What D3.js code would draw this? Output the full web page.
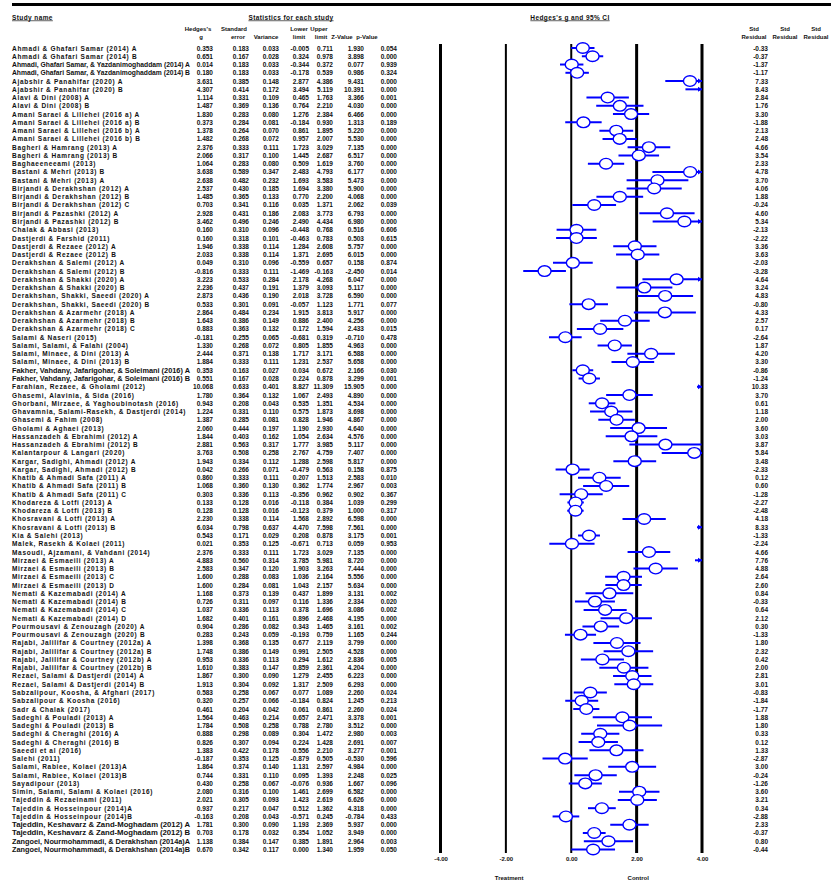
<!DOCTYPE html>
<html>
<head>
<meta charset="utf-8">
<script src="https://cdn.jsdelivr.net/npm/d3@7"></script>
<style>
body { margin: 0; background: #fff; }
svg text { font-family: "Liberation Sans", Arial, sans-serif; font-weight: bold; fill: #111; }
</style>
</head>
<body>
<div id="forest"></div>
<script>
var studies = [
	'Ahmadi & Ghafari Samar (2014) A', 'Ahmadi & Ghafari Samar (2014) B',
	'Ahmadi, Ghafari Samar, & Yazdanimoghaddam (2014) A', 'Ahmadi, Ghafari Samar, & Yazdanimoghaddam (2014) B',
	'Ajabshir & Panahifar (2020) A', 'Ajabshir & Panahifar (2020) B',
	'Alavi & Dini (2008) A', 'Alavi & Dini (2008) B',
	'Amani Saraei & Lillehei (2016 a) A', 'Amani Saraei & Lillehei (2016 a) B',
	'Amani Saraei & Lillehei (2016 b) A', 'Amani Saraei & Lillehei (2016 b) B',
	'Bagheri & Hamrang (2013) A', 'Bagheri & Hamrang (2013) B',
	'Baghaeeneeami (2013)', 'Bastani & Mehri (2013) B', 'Bastani & Mehri (2013) A',
	'Birjandi & Derakhshan (2012) A', 'Birjandi & Derakhshan (2012) B', 'Birjandi & Derakhshan (2012) C',
	'Birjandi & Pazashki (2012) A', 'Birjandi & Pazashki (2012) B',
	'Chalak & Abbasi (2013)', 'Dastjerdi & Farshid (2011)',
	'Dastjerdi & Rezaee (2012) A', 'Dastjerdi & Rezaee (2012) B',
	'Derakhshan & Salemi (2012) A', 'Derakhshan & Salemi (2012) B',
	'Derakhshan & Shakki (2020) A', 'Derakhshan & Shakki (2020) B',
	'Derakhshan, Shakki, Saeedi (2020) A', 'Derakhshan, Shakki, Saeedi (2020) B',
	'Derakhshan & Azarmehr (2018) A', 'Derakhshan & Azarmehr (2018) B', 'Derakhshan & Azarmehr (2018) C',
	'Salami & Naseri (2015)', 'Salami, Salami, & Falahi (2004)',
	'Salami, Minaee, & Dini (2013) A', 'Salami, Minaee, & Dini (2013) B',
	'Fakher, Vahdany, Jafarigohar, & Soleimani (2016) A', 'Fakher, Vahdany, Jafarigohar, & Soleimani (2016) B',
	'Farahian, Rezaee, & Gholami (2012)', 'Ghasemi, Alavinia, & Sida (2016)',
	'Ghorbani, Mirzaee, & Yaghoubinotash (2016)', 'Ghavamnia, Salami-Rasekh, & Dastjerdi (2014)',
	'Ghasemi & Fahim (2008)', 'Gholami & Aghaei (2013)',
	'Hassanzadeh & Ebrahimi (2012) A', 'Hassanzadeh & Ebrahimi (2012) B',
	'Kalantarpour & Langari (2020)', 'Kargar, Sadighi, Ahmadi (2012) A', 'Kargar, Sadighi, Ahmadi (2012) B',
	'Khatib & Ahmadi Safa (2011) A', 'Khatib & Ahmadi Safa (2011) B', 'Khatib & Ahmadi Safa (2011) C',
	'Khodareza & Lotfi (2013) A', 'Khodareza & Lotfi (2013) B',
	'Khosravani & Lotfi (2013) A', 'Khosravani & Lotfi (2013) B',
	'Kia & Salehi (2013)', 'Malek, Rasekh & Kolaei (2011)', 'Masoudi, Ajzamani, & Vahdani (2014)',
	'Mirzaei & Esmaeili (2013) A', 'Mirzaei & Esmaeili (2013) B', 'Mirzaei & Esmaeili (2013) C', 'Mirzaei & Esmaeili (2013) D',
	'Nemati & Kazemabadi (2014) A', 'Nemati & Kazemabadi (2014) B', 'Nemati & Kazemabadi (2014) C', 'Nemati & Kazemabadi (2014) D',
	'Pourmousavi & Zenouzagh (2020) A', 'Pourmousavi & Zenouzagh (2020) B',
	'Rajabi, Jalilifar & Courtney (2012a) A', 'Rajabi, Jalilifar & Courtney (2012a) B',
	'Rajabi, Jalilifar & Courtney (2012b) A', 'Rajabi, Jalilifar & Courtney (2012b) B',
	'Rezaei, Salami & Dastjerdi (2014) A', 'Rezaei, Salami & Dastjerdi (2014) B',
	'Sabzalipour, Koosha, & Afghari (2017)', 'Sabzalipour & Koosha (2016)', 'Sadr & Chalak (2017)',
	'Sadeghi & Pouladi (2013) A', 'Sadeghi & Pouladi (2013) B',
	'Sadeghi & Cheraghi (2016) A', 'Sadeghi & Cheraghi (2016) B',
	'Saeedi et al (2016)', 'Salehi (2011)',
	'Salami, Rabiee, Kolaei (2013)A', 'Salami, Rabiee, Kolaei (2013)B',
	'Sayadipour (2013)', 'Simin, Salami, Salami & Kolaei (2016)', 'Tajeddin & Rezaeinami (2011)',
	'Tajeddin & Hosseinpour (2014)A', 'Tajeddin & Hosseinpour (2014)B',
	'Tajeddin, Keshavarz & Zand-Moghadam (2012) A', 'Tajeddin, Keshavarz & Zand-Moghadam (2012) B',
	'Zangoei, Nourmohammadi, & Derakhshan (2014a)A', 'Zangoei, Nourmohammadi, & Derakhshan (2014a)B'
];

var hedges_g = [0.353,0.651,0.014,0.180,3.631,4.307,1.114,1.487,1.830,0.373,1.378,1.482,2.376,2.066,1.064,3.638,2.638,2.537,1.485,0.703,
	2.928,3.462,0.160,0.160,1.946,2.033,0.049,-0.816,3.223,2.236,2.873,0.533,2.864,1.643,0.883,-0.181,1.330,2.444,1.884,0.353,
	0.551,10.068,1.780,0.943,1.224,1.387,2.060,1.844,2.881,3.763,1.943,0.042,0.860,1.068,0.303,0.133,0.128,2.230,6.034,0.543,
	0.021,2.376,4.883,2.583,1.600,1.600,1.168,0.726,1.037,1.682,0.904,0.283,1.398,1.748,0.953,1.610,1.867,1.913,0.583,0.320,
	0.461,1.564,1.784,0.888,0.826,1.383,-0.187,1.864,0.744,0.430,2.080,2.021,0.937,-0.163,1.781,0.703,1.138,0.670];

var std_err = [0.183,0.167,0.183,0.183,0.385,0.414,0.331,0.369,0.283,0.284,0.264,0.268,0.333,0.317,0.283,0.589,0.482,0.430,0.365,0.341,
	0.431,0.496,0.310,0.318,0.338,0.338,0.310,0.333,0.533,0.437,0.436,0.301,0.484,0.386,0.363,0.255,0.268,0.371,0.333,0.163,
	0.167,0.633,0.364,0.208,0.331,0.285,0.444,0.403,0.563,0.508,0.334,0.266,0.333,0.360,0.336,0.128,0.128,0.338,0.798,0.171,
	0.353,0.333,0.560,0.347,0.288,0.284,0.373,0.311,0.336,0.401,0.286,0.243,0.368,0.386,0.336,0.383,0.300,0.304,0.258,0.257,
	0.204,0.463,0.508,0.298,0.307,0.422,0.353,0.374,0.331,0.258,0.316,0.305,0.217,0.208,0.300,0.178,0.384,0.342];

var variance = [0.033,0.028,0.033,0.033,0.148,0.172,0.109,0.136,0.080,0.081,0.070,0.072,0.111,0.100,0.080,0.347,0.232,0.185,0.133,0.116,
	0.186,0.246,0.096,0.101,0.114,0.114,0.096,0.111,0.284,0.191,0.190,0.091,0.234,0.149,0.132,0.065,0.072,0.138,0.111,0.027,
	0.028,0.401,0.132,0.043,0.110,0.081,0.197,0.162,0.317,0.258,0.112,0.071,0.111,0.130,0.113,0.016,0.016,0.114,0.637,0.029,
	0.125,0.111,0.314,0.120,0.083,0.081,0.139,0.097,0.113,0.161,0.082,0.059,0.135,0.149,0.113,0.147,0.090,0.092,0.067,0.066,
	0.042,0.214,0.258,0.089,0.094,0.178,0.125,0.140,0.110,0.067,0.100,0.093,0.047,0.043,0.090,0.032,0.147,0.117];

var lower_limit = [-0.005,0.324,-0.344,-0.178,2.877,3.494,0.465,0.764,1.276,-0.184,0.861,0.957,1.723,1.445,0.509,2.483,1.693,1.694,0.770,0.035,
	2.083,2.490,-0.448,-0.463,1.284,1.371,-0.559,-1.469,2.178,1.379,2.018,-0.057,1.915,0.886,0.172,-0.681,0.805,1.717,1.231,0.034,
	0.224,8.827,1.067,0.535,0.575,0.828,1.190,1.054,1.777,2.767,1.288,-0.479,0.207,0.362,-0.356,-0.118,-0.123,1.568,4.470,0.208,
	-0.671,1.723,3.785,1.903,1.036,1.043,0.437,0.116,0.378,0.896,0.343,-0.193,0.677,0.991,0.294,0.859,1.279,1.317,0.077,-0.184,
	0.061,0.657,0.788,0.304,0.224,0.556,-0.879,1.131,0.095,-0.076,1.461,1.423,0.512,-0.571,1.193,0.354,0.385,0.000];

var upper_limit = [0.711,0.978,0.372,0.539,4.386,5.119,1.763,2.210,2.384,0.930,1.895,2.007,3.029,2.687,1.619,4.793,3.583,3.380,2.200,1.371,
	3.773,4.434,0.768,0.783,2.608,2.695,0.657,-0.163,4.268,3.093,3.728,1.123,3.813,2.400,1.594,0.319,1.855,3.171,2.537,0.672,
	0.878,11.309,2.493,1.351,1.873,1.946,2.930,2.634,3.985,4.759,2.598,0.563,1.513,1.774,0.962,0.384,0.379,2.892,7.598,0.878,
	0.713,3.029,5.981,3.263,2.164,2.157,1.899,1.336,1.696,2.468,1.465,0.759,2.119,2.505,1.612,2.361,2.455,2.509,1.089,0.824,
	0.861,2.471,2.780,1.472,1.428,2.210,0.505,2.597,1.393,0.936,2.699,2.619,1.362,0.245,2.369,1.052,1.891,1.340];

var z_value = [1.930,3.898,0.077,0.986,9.431,10.391,3.366,4.030,6.466,1.313,5.220,5.530,7.135,6.517,3.760,6.177,5.473,5.900,4.068,2.062,
	6.793,6.980,0.516,0.503,5.757,6.015,0.158,-2.450,6.047,5.117,6.590,1.771,5.917,4.256,2.433,-0.710,4.963,6.588,5.658,2.166,
	3.299,15.905,4.890,4.534,3.698,4.867,4.640,4.576,5.117,7.407,5.817,0.158,2.583,2.967,0.902,1.039,1.000,6.598,7.561,3.175,
	0.059,7.135,8.720,7.444,5.556,5.634,3.131,2.334,3.086,4.195,3.161,1.165,3.799,4.528,2.836,4.204,6.223,6.293,2.260,1.245,
	2.260,3.378,3.512,2.980,2.691,3.277,-0.530,4.984,2.248,1.667,6.582,6.626,4.318,-0.784,5.937,3.949,2.964,1.959];

var p_value = [0.054,0.000,0.939,0.324,0.000,0.000,0.001,0.000,0.000,0.189,0.000,0.000,0.000,0.000,0.000,0.000,0.000,0.000,0.000,0.039,
	0.000,0.000,0.606,0.615,0.000,0.000,0.874,0.014,0.000,0.000,0.000,0.077,0.000,0.000,0.015,0.478,0.000,0.000,0.000,0.030,
	0.001,0.000,0.000,0.000,0.000,0.000,0.000,0.000,0.000,0.000,0.000,0.875,0.010,0.003,0.367,0.299,0.317,0.000,0.000,0.001,
	0.953,0.000,0.000,0.000,0.000,0.000,0.002,0.020,0.002,0.000,0.002,0.244,0.000,0.000,0.005,0.000,0.000,0.000,0.024,0.213,
	0.024,0.001,0.000,0.003,0.007,0.001,0.596,0.000,0.025,0.096,0.000,0.000,0.000,0.433,0.000,0.000,0.003,0.050];

var std_residual = [-0.33,-0.37,-1.37,-1.17,7.33,8.43,2.84,1.76,3.30,-1.88,2.13,2.48,4.66,3.54,2.33,4.78,3.70,4.06,1.88,-0.24,
	4.60,5.34,-2.13,-2.22,3.36,3.63,-2.03,-3.28,4.64,3.24,4.83,-0.80,4.33,2.57,0.17,-2.64,1.87,4.20,3.30,-0.86,
	-1.24,10.33,3.70,0.61,1.18,2.00,3.60,3.03,3.87,5.84,3.48,-2.33,0.12,0.60,-1.28,-2.27,-2.48,4.18,8.33,-1.33,
	-2.24,4.66,7.76,4.88,2.64,2.60,0.84,-0.33,0.64,2.12,0.30,-1.33,1.80,2.32,0.42,2.00,2.81,3.01,-0.83,-1.84,
	-1.77,1.88,1.80,0.33,0.12,1.33,-2.87,3.00,-0.24,-1.26,3.60,3.21,0.34,-2.88,2.33,-0.37,0.80,-0.44];

var x_ticks = [-4, -2, 0, 2, 4];
var axis_labels = ['Treatment', 'Control'];


var chart_width  = 831;
var chart_height = 882;

var svg = d3.select('#forest')
	.append('svg')
	.attr('width', chart_width)
	.attr('height', chart_height);

// Scales
var x_scale = d3.scaleLinear()
	.domain([-4, 4])
	.range([440.5, 702]);

var y_scale = d3.scalePoint()
	.domain(d3.range(studies.length))
	.range([48, 849.5]);

var f3 = d3.format('.3f');
var f2 = d3.format('.2f');
function fix(s) { return s.replace('\u2212', '-'); }


// Top rule and headings
svg.append('line')
	.attr('x1', 12).attr('x2', chart_width)
	.attr('y1', 4.5).attr('y2', 4.5)
	.attr('stroke', '#000').attr('stroke-width', 3);

function head(txt, x, y, anchor, size) {
	return svg.append('text')
		.attr('x', x).attr('y', y)
		.attr('text-anchor', anchor || 'middle')
		.attr('dominant-baseline', 'central')
		.style('font-size', (size || 6) + 'px')
		.text(txt);
}

head('Study name', 12, 17, 'start', 6.5).style('text-decoration', 'underline').style('letter-spacing', '0.4px');
head('Statistics for each study', 291, 17, 'middle', 6.5).style('text-decoration', 'underline').style('letter-spacing', '0.4px');
head("Hedges's g and 95% CI", 570, 17, 'middle', 6.5).style('text-decoration', 'underline').style('letter-spacing', '0.4px');

head("Hedges's", 198, 29); head('g', 201, 37);
head('Standard', 234, 29); head('error', 238, 37);
head('Variance', 266, 37);
head('Lower', 299, 29); head('limit', 299, 37);
head('Upper', 319, 29); head('limit', 321, 37);
head('Z-Value', 342, 37);
head('p-Value', 367, 37);

[754, 785, 816].forEach(function(cx) {
	head('Std', cx, 29);
	head('Residual', cx, 37);
});


// Table of statistics
var rows = svg.append('g')
	.selectAll('g')
	.data(studies)
	.enter()
	.append('g')
	.attr('transform', function(d, i) { return 'translate(0,' + y_scale(i) + ')'; });

rows.append('text')
	.attr('x', 12)
	.attr('dominant-baseline', 'central')
	.style('font-size', '6.5px')
	.style('letter-spacing', '0.7px')
	.text(function(d) { return d; })
	.each(function() {
		// long names are squeezed so they stop before the g column
		var len = this.getComputedTextLength();
		if (12 + len > 192) {
			d3.select(this)
				.style('letter-spacing', null)
				.attr('textLength', 178)
				.attr('lengthAdjust', 'spacingAndGlyphs');
		}
	});

var columns = [
	{ values: hedges_g,     x: 213, fmt: f3 },
	{ values: std_err,      x: 249, fmt: f3 },
	{ values: variance,     x: 279, fmt: f3 },
	{ values: lower_limit,  x: 309, fmt: f3 },
	{ values: upper_limit,  x: 333, fmt: f3 },
	{ values: z_value,      x: 364, fmt: f3 },
	{ values: p_value,      x: 397, fmt: f3 },
	{ values: std_residual, x: 768, fmt: f2 }
];

columns.forEach(function(col) {
	rows.append('text')
		.attr('x', col.x)
		.attr('text-anchor', 'end')
		.attr('dominant-baseline', 'central')
		.style('font-size', '6.5px')
		.text(function(d, i) { return fix(col.fmt(col.values[i])); });
});


// Reference lines
var line_widths = [3, 2, 2, 3, 3];
svg.append('g')
	.selectAll('line')
	.data(x_ticks)
	.enter()
	.append('line')
	.attr('x1', function(d) { return x_scale(d); })
	.attr('x2', function(d) { return x_scale(d); })
	.attr('y1', 44).attr('y2', 853)
	.attr('stroke', '#000')
	.attr('stroke-width', function(d, i) { return line_widths[i]; });

// Axis labels
var x_axis = d3.axisBottom(x_scale)
	.tickValues(x_ticks)
	.tickSize(0)
	.tickPadding(4)
	.tickFormat(function(d) { return fix(f2(d)); });

var axis_g = svg.append('g')
	.attr('transform', 'translate(0,853)')
	.call(x_axis);
axis_g.select('.domain').remove();
axis_g.selectAll('text')
	.style('font-size', '6px')
	.style('font-family', '"Liberation Sans", Arial, sans-serif')
	.style('font-weight', 'bold');

svg.append('text')
	.attr('x', x_scale(-1.9)).attr('y', 878)
	.attr('text-anchor', 'middle').attr('dominant-baseline', 'central')
	.style('font-size', '6px')
	.text(axis_labels[0]);
svg.append('text')
	.attr('x', x_scale(2.05)).attr('y', 878)
	.attr('text-anchor', 'middle').attr('dominant-baseline', 'central')
	.style('font-size', '6px')
	.text(axis_labels[1]);


// Confidence intervals and points
var blue = '#0000ff';
var marks = svg.append('g');

studies.forEach(function(s, i) {
	var y  = y_scale(i);
	var lo = lower_limit[i], hi = upper_limit[i], g = hedges_g[i];

	if (lo > 4) {
		marks.append('line')
			.attr('x1', x_scale(4) - 5).attr('x2', x_scale(4))
			.attr('y1', y).attr('y2', y)
			.attr('stroke', blue).attr('stroke-width', 2);
	} else {
		marks.append('line')
			.attr('x1', x_scale(Math.max(lo, -4)))
			.attr('x2', x_scale(Math.min(hi, 4)))
			.attr('y1', y).attr('y2', y)
			.attr('stroke', blue).attr('stroke-width', 2);
	}

	if (hi > 4) {
		var xe = x_scale(4);
		marks.append('path')
			.attr('d', 'M' + (xe - 4) + ',' + (y - 2.5) + 'L' + xe + ',' + y + 'L' + (xe - 4) + ',' + (y + 2.5) + 'Z')
			.attr('fill', blue);
	}

	if (g <= 4) {
		marks.append('ellipse')
			.attr('cx', x_scale(g)).attr('cy', y)
			.attr('rx', 6.5).attr('ry', 5.3)
			.attr('fill', '#fff')
			.attr('stroke', blue)
			.attr('stroke-width', 1.4);
	}
});
</script>
</body>
</html>
